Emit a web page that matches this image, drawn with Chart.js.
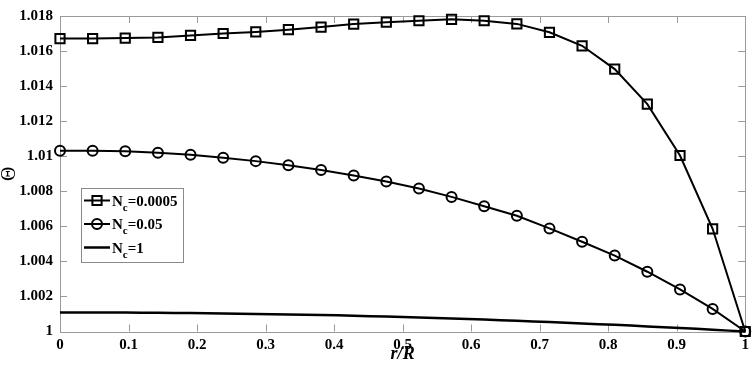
<!DOCTYPE html>
<html>
<head>
<meta charset="utf-8">
<script src="https://cdn.jsdelivr.net/npm/chart.js@4/dist/chart.umd.min.js"></script>
<style>
    html, body { margin: 0; padding: 0; background: #fff; }
    #wrap { width: 754px; height: 371px; position: relative; }
</style>
</head>
<body>
<div id="wrap"><canvas id="chartTheta"></canvas></div>
<script>
// r/R positions of the computed points
const rValues = [0, 0.0476, 0.0952, 0.1429, 0.1905, 0.2381, 0.2857, 0.3333, 0.3810, 0.4286, 0.4762,
    0.5238, 0.5714, 0.6190, 0.6667, 0.7143, 0.7619, 0.8095, 0.8571, 0.9048, 0.9524, 1];

// Theta for each N_c
const thetaNc00005 = [1.01671, 1.01671, 1.01674, 1.01678, 1.01689, 1.01700, 1.01709, 1.01722, 1.01737, 1.01754, 1.01765,
    1.01773, 1.01781, 1.01773, 1.01755, 1.01707, 1.01630, 1.01497, 1.01297, 1.01004, 1.00586, 1.00000];
const thetaNc005 = [1.01031, 1.01031, 1.01028, 1.01020, 1.01009, 1.00991, 1.00972, 1.00949, 1.00921, 1.00890, 1.00856,
    1.00816, 1.00768, 1.00715, 1.00660, 1.00588, 1.00512, 1.00433, 1.00341, 1.00240, 1.00129, 1.00000];
const thetaNc1 = [1.00109, 1.00109, 1.00108, 1.00107, 1.00105, 1.00103, 1.00100, 1.00097, 1.00094, 1.00090, 1.00085,
    1.00080, 1.00074, 1.00068, 1.00061, 1.00054, 1.00046, 1.00038, 1.00029, 1.00020, 1.00010, 1.00000];

const seriesLabels = ['N_c=0.0005', 'N_c=0.05', 'N_c=1'];

const xTicks = [0, 0.1, 0.2, 0.3, 0.4, 0.5, 0.6, 0.7, 0.8, 0.9, 1];
const yTicks = [1, 1.002, 1.004, 1.006, 1.008, 1.01, 1.012, 1.014, 1.016, 1.018];

const serif = '"Liberation Serif", "Times New Roman", serif';
const axisGray = '#9a9a9a';

function toPoints(ys) {
    return ys.map((y, i) => ({ x: rValues[i], y: y }));
}

// MATLAB-like box with inward ticks on all four sides
const frameTicks = {
    id: 'frameTicks',
    beforeDatasetsDraw(chart) {
        const { ctx, chartArea: a, scales } = chart;
        const len = 7;
        ctx.save();
        ctx.strokeStyle = axisGray;
        ctx.lineWidth = 1;
        ctx.beginPath();
        scales.x.ticks.forEach(t => {
            const px = Math.round(scales.x.getPixelForValue(t.value)) + 0.5;
            ctx.moveTo(px, a.bottom); ctx.lineTo(px, a.bottom - len);
            ctx.moveTo(px, a.top); ctx.lineTo(px, a.top + len);
        });
        scales.y.ticks.forEach(t => {
            const py = Math.round(scales.y.getPixelForValue(t.value)) + 0.5;
            ctx.moveTo(a.left, py); ctx.lineTo(a.left + len, py);
            ctx.moveTo(a.right, py); ctx.lineTo(a.right - len, py);
        });
        ctx.stroke();
        ctx.strokeRect(Math.round(a.left) + 0.5, Math.round(a.top) + 0.5,
            Math.round(a.right - a.left), Math.round(a.bottom - a.top));
        ctx.restore();
    }
};

// boxed legend with subscript c
const boxLegend = {
    id: 'boxLegend',
    afterDraw(chart) {
        const ctx = chart.ctx;
        const box = { x: 81, y: 188, w: 102, h: 74 };
        ctx.save();
        ctx.fillStyle = '#fff';
        ctx.fillRect(box.x, box.y, box.w, box.h);
        ctx.strokeStyle = '#8a8a8a';
        ctx.lineWidth = 1;
        ctx.strokeRect(box.x + 0.5, box.y + 0.5, box.w, box.h);

        chart.data.datasets.forEach((ds, i) => {
            const y = 200.5 + i * 23.5;
            ctx.strokeStyle = ds.borderColor;
            ctx.lineWidth = ds.borderWidth;
            ctx.beginPath();
            ctx.moveTo(84, y); ctx.lineTo(110, y);
            ctx.stroke();
            if (ds.pointRadius > 0) {
                ctx.fillStyle = 'rgba(0,0,0,0)';
                ctx.lineWidth = ds.pointBorderWidth;
                Chart.helpers.drawPoint(ctx, {
                    pointStyle: ds.pointStyle, radius: ds.pointRadius,
                    borderWidth: ds.pointBorderWidth, rotation: 0
                }, 97, y);
            }
            const parts = ds.label.split('_');
            const main = parts[0];
            const sub = parts[1].charAt(0);
            const rest = parts[1].slice(1);
            ctx.fillStyle = '#000';
            ctx.textBaseline = 'alphabetic';
            ctx.textAlign = 'left';
            let x = 112;
            ctx.font = 'bold 15px ' + serif;
            ctx.fillText(main, x, y + 5);
            x += ctx.measureText(main).width;
            ctx.font = 'bold 11px ' + serif;
            ctx.fillText(sub, x, y + 10);
            x += ctx.measureText(sub).width;
            ctx.font = 'bold 15px ' + serif;
            ctx.fillText(rest, x, y + 5);
        });
        ctx.restore();
    }
};

const ctx = document.getElementById('chartTheta').getContext('2d');

new Chart(ctx, {
    type: 'line',
    data: {
        datasets: [
            {
                label: seriesLabels[0],
                data: toPoints(thetaNc00005),
                borderColor: '#000',
                borderWidth: 2,
                pointStyle: 'rect',
                pointRadius: 6.5,
                pointBorderWidth: 2,
                pointBorderColor: '#000',
                pointBackgroundColor: 'rgba(0,0,0,0)',
                tension: 0,
            },
            {
                label: seriesLabels[1],
                data: toPoints(thetaNc005),
                borderColor: '#000',
                borderWidth: 2,
                pointStyle: 'circle',
                pointRadius: 5,
                pointBorderWidth: 2,
                pointBorderColor: '#000',
                pointBackgroundColor: 'rgba(0,0,0,0)',
                tension: 0,
            },
            {
                label: seriesLabels[2],
                data: toPoints(thetaNc1),
                borderColor: '#000',
                borderWidth: 2.5,
                pointRadius: 0,
                pointBorderWidth: 0,
                tension: 0.3,
            },
        ],
    },
    options: {
        responsive: true,
        maintainAspectRatio: false,
        animation: false,
        clip: false,
        layout: { padding: { top: 6, right: 7, left: 0, bottom: 0 } },
        plugins: {
            legend: { display: false },
            tooltip: { enabled: false },
        },
        scales: {
            x: {
                type: 'linear',
                min: 0,
                max: 1,
                afterBuildTicks: s => { s.ticks = xTicks.map(v => ({ value: v })); },
                afterFit: s => { s.height = 39.5; },
                grid: { display: false, drawTicks: false },
                border: { display: false },
                ticks: {
                    padding: 5,
                    color: '#000',
                    maxRotation: 0,
                    font: { family: serif, size: 15, weight: 'bold' },
                    callback: v => String(+v.toFixed(1)),
                },
                title: {
                    display: true,
                    text: 'r/R',
                    color: '#000',
                    font: { family: serif, size: 18, weight: 'bold', style: 'italic', lineHeight: 1 },
                    padding: { top: 0, bottom: 8 },
                },
            },
            y: {
                type: 'linear',
                min: 1,
                max: 1.018,
                afterBuildTicks: s => { s.ticks = yTicks.map(v => ({ value: v })); },
                afterFit: s => { s.width = 60; },
                grid: { display: false, drawTicks: false },
                border: { display: false },
                ticks: {
                    padding: 7,
                    color: '#000',
                    font: { family: serif, size: 15, weight: 'bold' },
                    callback: v => String(+v.toFixed(3)),
                },
                title: {
                    display: true,
                    text: 'Θ',
                    color: '#000',
                    font: { family: serif, size: 20, weight: 'normal', lineHeight: 1 },
                    padding: { top: 0, bottom: 0 },
                },
            },
        },
    },
    plugins: [frameTicks, boxLegend],
});
</script>
</body>
</html>
